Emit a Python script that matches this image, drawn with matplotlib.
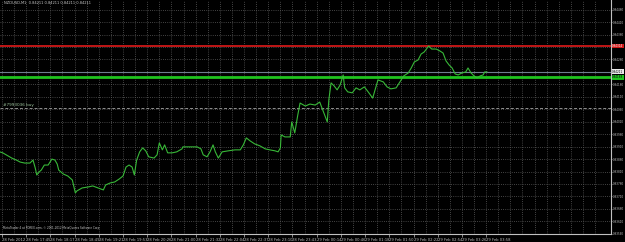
import matplotlib.pyplot as plt

# minutes since 28 Feb 17:13 (M1 line chart, close prices)
minutes = [-3, 1, 8, 13, 19, 24, 30, 37, 41, 44, 46, 49, 52, 56, 61, 66, 70, 73, 75, 81,
           87, 93, 97, 99, 106, 114, 120, 127, 134, 137, 143, 149, 155, 160, 164, 168, 172, 175, 178, 182,
           186, 190, 194, 201, 205, 208, 212, 215, 219, 225, 231, 238, 239, 249, 258, 263, 266, 271, 275, 279,
           282, 286, 291, 299, 308, 315, 319, 323, 328, 334, 341, 348, 354, 361, 365, 368, 369, 374, 381, 383,
           387, 391, 394, 401, 407, 414, 420, 424, 430, 432, 435, 439, 443, 447, 451, 453, 457, 463, 468, 473,
           479, 484, 490, 494, 497, 504, 509, 514, 521, 526, 531, 537, 541, 545, 550, 554, 558, 562, 564, 568,
           574, 579, 583, 587, 591, 595, 599, 603, 608, 613, 616, 620, 624, 628, 632, 636, 638, 641]
close = [0.83889, 0.83885, 0.83873, 0.83864, 0.83856, 0.83848, 0.83844, 0.83844, 0.83856, 0.83824, 0.83796, 0.83808, 0.83816, 0.83836, 0.83836, 0.83860, 0.83856, 0.83840, 0.83816, 0.83800,
         0.83792, 0.83776, 0.83724, 0.83732, 0.83744, 0.83748, 0.83752, 0.83744, 0.83736, 0.83756, 0.83764, 0.83768, 0.83780, 0.83792, 0.83828, 0.83836, 0.83828, 0.83796, 0.83856, 0.83889,
         0.83905, 0.83893, 0.83869, 0.83864, 0.83877, 0.83925, 0.83897, 0.83917, 0.83885, 0.83885, 0.83889, 0.83901, 0.83909, 0.83909, 0.83909, 0.83901, 0.83877, 0.83869, 0.83889, 0.83917,
         0.83889, 0.83864, 0.83889, 0.83893, 0.83897, 0.83897, 0.83917, 0.83945, 0.83933, 0.83921, 0.83913, 0.83901, 0.83897, 0.83893, 0.83889, 0.83905, 0.83957, 0.83949, 0.83949, 0.84009,
         0.83965, 0.84037, 0.84085, 0.84073, 0.84081, 0.84077, 0.84089, 0.84057, 0.84009, 0.84097, 0.84166, 0.84154, 0.84138, 0.84158, 0.84198, 0.84146, 0.84130, 0.84126, 0.84146, 0.84138,
         0.84150, 0.84130, 0.84105, 0.84146, 0.84178, 0.84170, 0.84150, 0.84142, 0.84146, 0.84170, 0.84194, 0.84206, 0.84226, 0.84250, 0.84258, 0.84282, 0.84290, 0.84306, 0.84314, 0.84302,
         0.84302, 0.84294, 0.84286, 0.84254, 0.84238, 0.84226, 0.84202, 0.84198, 0.84206, 0.84210, 0.84226, 0.84206, 0.84194, 0.84186, 0.84194, 0.84198, 0.84210, 0.84210]

price_ticks = [0.84460, 0.84410, 0.84360, 0.84310, 0.84260, 0.84210, 0.84160, 0.84110, 0.84060, 0.84010,
               0.83960, 0.83910, 0.83860, 0.83810, 0.83760, 0.83710, 0.83660, 0.83610, 0.83560]
time_labels = ["28 Feb 2012", "28 Feb 17:45", "28 Feb 18:17", "28 Feb 18:49", "28 Feb 19:21",
               "28 Feb 19:53", "28 Feb 20:26", "28 Feb 21:00", "28 Feb 21:32", "28 Feb 22:04",
               "28 Feb 22:37", "28 Feb 23:10", "28 Feb 23:43", "29 Feb 00:14", "29 Feb 00:46",
               "29 Feb 01:18", "29 Feb 01:50", "29 Feb 02:22", "29 Feb 02:54", "29 Feb 03:26",
               "29 Feb 03:58"]
time_ticks = [32 * i for i in range(len(time_labels))]

bid = 0.84211
red_level = 0.84314
green_level = 0.84188
order_level = 0.84065

fig = plt.figure(figsize=(6.25, 2.42), dpi=100, facecolor="black")
ax = fig.add_axes([0, 8 / 242, 611 / 625, 234 / 242])
ax.set_facecolor("black")
ax.set_xlim(-2.6, 805)
ax.set_ylim(0.83559, 0.84499)

# dotted grid
grid_kw = dict(color="#5a5a5a", linewidth=0.6, linestyle=(0, (1, 1.6)), zorder=1)
for t in range(0, 800, 16):
    ax.axvline(t, **grid_kw)
for p in price_ticks:
    ax.axhline(p, **grid_kw)

# horizontal levels
ax.axhline(red_level, color="#d01818", linewidth=1.3, zorder=2)
ax.axhline(bid, color="#6f7f8f", linewidth=0.8, zorder=2)
ax.axhline(green_level, color="#1fc41f", linewidth=2.0, zorder=2)
ax.axhline(order_level, color="#909090", linewidth=0.7, linestyle=(0, (3, 2)), zorder=2)
ax.text(2, order_level + 0.00003, "#7993036 buy", color="#a0c8a0", fontsize=3.0,
        va="bottom", ha="left", zorder=3)

ax.plot(minutes, close, color="#38b838", linewidth=0.8, zorder=4)

ax.text(3, 0.84485, "NZDUSD,M1  0.84211 0.84211 0.84211 0.84211", color="#c8c8c8",
        fontsize=2.6, va="center", ha="left")
ax.text(1, 0.83582, "MetaTrader 4 at FOREX.com, \u00a9 2001-2012 MetaQuotes Software Corp.",
        color="#c8c8c8", fontsize=2.0, va="center", ha="left")

# axes
for side in ["top", "left"]:
    ax.spines[side].set_visible(False)
for side in ["right", "bottom"]:
    ax.spines[side].set_color("#c0c0c0")
    ax.spines[side].set_linewidth(0.8)

# the tags below cover the scale labels at the red line and the bid
covered = [red_level, bid]
ax.set_yticks(price_ticks)
ax.set_yticklabels(["" if any(abs(p - c) < 0.0001 for c in covered) else f"{p:.5f}"
                    for p in price_ticks])
ax.yaxis.tick_right()
ax.tick_params(axis="y", colors="#c0c0c0", labelsize=2.0, length=0.8, width=0.5, pad=0.4)

ax.set_xticks(time_ticks)
ax.set_xticklabels(time_labels, ha="left")
ax.tick_params(axis="x", colors="#c0c0c0", labelsize=2.7, length=2, width=0.5, pad=1)

# price tags on the axis
tags = [(red_level, "#d01818", "#ffffff"), (bid, "#e8e8e8", "#000000"), (green_level, "#1fc41f", "#000000")]
for level, bg, fg in tags:
    ax.text(1.002, level, f"{level:.5f}", transform=ax.get_yaxis_transform(), fontsize=2.0,
            color=fg, va="center", ha="left", clip_on=False,
            bbox=dict(boxstyle="square,pad=0.1", facecolor=bg, edgecolor="none"))

fig.savefig("out.png", dpi=100, facecolor="black")
